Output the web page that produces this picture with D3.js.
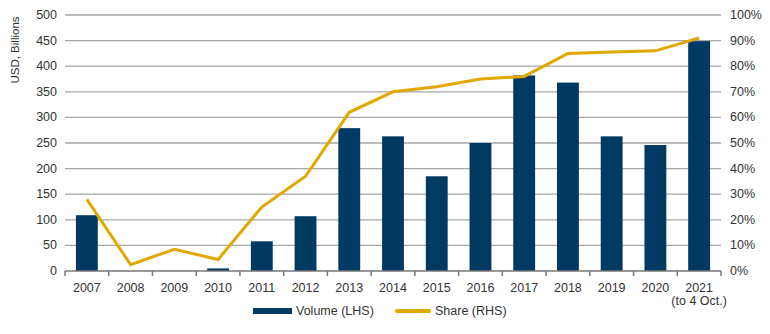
<!DOCTYPE html>
<html>
<head>
<meta charset="utf-8">
<script src="https://cdn.jsdelivr.net/npm/d3@7"></script>
<style>
body { margin: 0; background: #fff; }
text { font-family: "Liberation Sans", Arial, sans-serif; fill: #333; }
</style>
</head>
<body>
<svg id="chart" width="770" height="334"></svg>
<script>
var years = ["2007", "2008", "2009", "2010", "2011", "2012", "2013", "2014",
             "2015", "2016", "2017", "2018", "2019", "2020", "2021"]
var volume = [109, 0, 0, 5, 58, 107, 279, 263, 185, 250, 382, 368, 263, 246, 449]
var share = [0.28, 0.025, 0.085, 0.045, 0.25, 0.37, 0.62, 0.70, 0.72, 0.75, 0.76, 0.85, 0.855, 0.86, 0.91]
var leftTicks = [0, 50, 100, 150, 200, 250, 300, 350, 400, 450, 500]
var rightTicks = [0, 0.1, 0.2, 0.3, 0.4, 0.5, 0.6, 0.7, 0.8, 0.9, 1]

var svg = d3.select("#chart")
var plotLeft = 65, plotRight = 721, plotTop = 15, plotBottom = 271

var x = d3.scaleBand().domain(years).range([plotLeft, plotRight]).paddingInner(0.5).paddingOuter(0.25)
var xb = d3.scaleBand().domain(years).range([plotLeft, plotRight])
var yL = d3.scaleLinear().domain([0, 500]).range([plotBottom, plotTop])
var yR = d3.scaleLinear().domain([0, 1]).range([plotBottom, plotTop])

// gridlines
svg.append("g")
    .selectAll("line.grid")
    .data(leftTicks.slice(1))
    .join("line")
    .attr("x1", plotLeft).attr("x2", plotRight)
    .attr("y1", d => yL(d)).attr("y2", d => yL(d))
    .style("stroke", "#a6a6a6")
    .style("stroke-width", "1.3px")

// left labels
svg.append("g")
    .selectAll("text")
    .data(leftTicks)
    .join("text")
    .attr("x", 57)
    .attr("y", d => yL(d) + 4)
    .attr("text-anchor", "end")
    .style("font-size", "12.5px")
    .text(d => d)

// right labels
svg.append("g")
    .selectAll("text")
    .data(rightTicks)
    .join("text")
    .attr("x", 730)
    .attr("y", d => yR(d) + 4)
    .style("font-size", "12.5px")
    .text(d => Math.round(d * 100) + "%")

svg.append("text")
    .attr("transform", "translate(19,50) rotate(-90)")
    .attr("text-anchor", "middle")
    .style("font-size", "11.5px")
    .text("USD, Billions")

// bars
svg.append("g")
    .selectAll("rect")
    .data(volume)
    .join("rect")
    .attr("x", (d, i) => x(years[i]))
    .attr("width", x.bandwidth())
    .attr("y", d => yL(d))
    .attr("height", d => plotBottom - yL(d))
    .style("fill", "#003a63")

// x axis
svg.append("line")
    .attr("x1", plotLeft).attr("x2", plotRight)
    .attr("y1", plotBottom).attr("y2", plotBottom)
    .style("stroke", "#777").style("stroke-width", "1.5px")
svg.append("g")
    .selectAll("line")
    .data(years.concat(["end"]))
    .join("line")
    .attr("x1", (d, i) => plotLeft + i * xb.bandwidth())
    .attr("x2", (d, i) => plotLeft + i * xb.bandwidth())
    .attr("y1", plotBottom).attr("y2", plotBottom + 5)
    .style("stroke", "#777").style("stroke-width", "1.5px")

svg.append("g")
    .selectAll("text")
    .data(years)
    .join("text")
    .attr("x", d => xb(d) + xb.bandwidth() / 2)
    .attr("y", 292)
    .attr("text-anchor", "middle")
    .style("font-size", "12.5px")
    .text(d => d)
svg.append("text")
    .attr("x", xb("2021") + xb.bandwidth() / 2)
    .attr("y", 305)
    .attr("text-anchor", "middle")
    .style("font-size", "12.5px")
    .text("(to 4 Oct.)")

// share line
var line = d3.line()
    .x((d, i) => xb(years[i]) + xb.bandwidth() / 2)
    .y(d => yR(d))
svg.append("path")
    .datum(share)
    .attr("d", line)
    .style("fill", "none")
    .style("stroke", "#e0a800")
    .style("stroke-width", "3px")

// legend
svg.append("rect")
    .attr("x", 253).attr("y", 308).attr("width", 39).attr("height", 6)
    .style("fill", "#003a63")
svg.append("text").attr("x", 296).attr("y", 315).style("font-size", "12.5px").text("Volume (LHS)")
svg.append("line")
    .attr("x1", 397).attr("x2", 429).attr("y1", 311).attr("y2", 311)
    .style("stroke", "#e0a800").style("stroke-width", "4px").style("stroke-linecap", "round")
svg.append("text").attr("x", 435).attr("y", 315).style("font-size", "12.5px").text("Share (RHS)")
</script>
</body>
</html>
